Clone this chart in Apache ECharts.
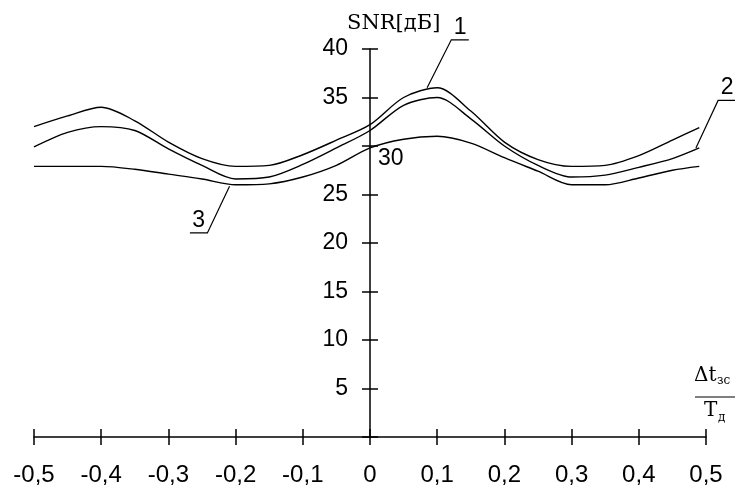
<!DOCTYPE html>
<html>
<head>
<meta charset="utf-8">
<script src="https://cdn.jsdelivr.net/npm/echarts@6/dist/echarts.min.js"></script>
<style>
html, body { margin: 0; padding: 0; background: #fff; }
#chart { width: 735px; height: 487px; }
</style>
</head>
<body>
<div id="chart"></div>
<script>
// отстройка по времени, доли периода
var xs = [-0.5, -0.45, -0.4, -0.35, -0.3, -0.25, -0.2, -0.15, -0.1, -0.05, 0, 0.05, 0.1, 0.15, 0.2, 0.25, 0.3, 0.35, 0.4, 0.45, 0.49];
// SNR, дБ, кривые 1..3
var snr1 = [32.0, 33.1, 34.0, 32.6, 30.4, 28.7, 27.9, 28.0, 29.1, 30.6, 32.2, 35.0, 36.0, 33.6, 30.4, 28.6, 27.9, 28.0, 29.0, 30.6, 31.9];
var snr2 = [29.9, 31.4, 32.0, 31.6, 29.7, 28.0, 26.6, 26.8, 28.1, 29.8, 31.6, 34.2, 35.0, 32.8, 30.0, 28.0, 26.8, 27.0, 27.8, 28.7, 29.8];
var snr3 = [27.9, 27.9, 27.9, 27.6, 27.1, 26.6, 26.0, 26.1, 26.8, 28.0, 29.8, 30.7, 31.0, 30.3, 28.8, 27.4, 26.0, 26.0, 26.7, 27.5, 27.9];
var yTickLabels = ['', '5', '10', '15', '20', '25', '', '35', '40'];
// выноски с номерами кривых (в координатах данных)
var callouts = [
    { text: '1', pts: [[0.085, 36.0], [0.121, 40.95], [0.147, 40.95]] },
    { text: '2', pts: [[0.485, 29.8], [0.518, 34.7], [0.545, 34.7]] },
    { text: '3', pts: [[-0.209, 25.85], [-0.242, 21.04], [-0.268, 21.04]] }
];

function zip(a, b) {
    var r = [];
    for (var i = 0; i < a.length; i++) r.push([a[i], b[i]]);
    return r;
}

var black = '#000';
var sansFont = 'Liberation Sans, Arial, sans-serif';
var serifFont = 'DejaVu Serif, Liberation Serif, serif';

var gridLeft = 34, gridRight = 29;
var gridW = 735 - gridLeft - gridRight;
// ось Y стоит на нуле оси X
var yOffset = -gridW / 2;

var myChart = echarts.init(document.getElementById('chart'));

var lineStyle = { color: black, width: 1.4 };

var option = {
    animation: false,
    backgroundColor: '#fff',
    grid: { left: gridLeft, right: gridRight, top: 49, bottom: 50, containLabel: false, outerBoundsMode: 'none' },
    xAxis: [
        {
            type: 'value', min: -0.5, max: 0.5, interval: 0.1, position: 'bottom',
            axisLine: { onZero: false, lineStyle: { color: black, width: 1.5 } },
            axisTick: { length: 8, lineStyle: { color: black, width: 1.5 } },
            axisLabel: {
                color: black, fontSize: 24, fontFamily: sansFont, margin: 26,
                formatter: function (v) { return String(+v.toFixed(1)).replace('.', ','); }
            },
            splitLine: { show: false }
        },
        {
            type: 'value', min: -0.5, max: 0.5, interval: 0.1, position: 'bottom',
            axisLine: { onZero: false, show: false },
            axisTick: { inside: true, length: 8, lineStyle: { color: black, width: 1.5 } },
            axisLabel: { show: false },
            splitLine: { show: false }
        }
    ],
    yAxis: [
        {
            type: 'value', min: 0, max: 40, interval: 5, position: 'left', offset: yOffset,
            axisLine: { show: true, onZero: false, lineStyle: { color: black, width: 1.5 } },
            axisTick: { length: 8, lineStyle: { color: black, width: 1.5 } },
            axisLabel: {
                color: black, fontSize: 23, fontFamily: sansFont, margin: 22,
                formatter: function (v) { return yTickLabels[Math.round(v / 5)]; }
            },
            splitLine: { show: false }
        },
        {
            type: 'value', min: 0, max: 40, interval: 5, position: 'left', offset: yOffset,
            axisLine: { show: false, onZero: false },
            axisTick: { inside: true, length: 8, lineStyle: { color: black, width: 1.5 } },
            axisLabel: {
                inside: true, color: black, fontSize: 23, fontFamily: sansFont, margin: 8,
                verticalAlign: 'top', padding: [1, 0, 0, 0],
                formatter: function (v) { return v === 30 ? '30' : ''; }
            },
            splitLine: { show: false }
        }
    ],
    series: [
        { name: '1', type: 'line', data: zip(xs, snr1), symbol: 'none', smooth: 0.3, lineStyle: lineStyle },
        { name: '2', type: 'line', data: zip(xs, snr2), symbol: 'none', smooth: 0.3, lineStyle: lineStyle },
        { name: '3', type: 'line', data: zip(xs, snr3), symbol: 'none', smooth: 0.3, lineStyle: lineStyle }
    ]
};

myChart.setOption(option);

// выноски и подписи осей
var g = [];
callouts.forEach(function (c) {
    var p = c.pts.map(function (d) { return myChart.convertToPixel({ xAxisIndex: 0, yAxisIndex: 0 }, d); });
    g.push({
        type: 'polyline', silent: true,
        shape: { points: p },
        style: { stroke: black, lineWidth: 1.2, fill: null }
    });
    g.push({
        type: 'text', silent: true,
        x: (p[1][0] + p[2][0]) / 2, y: p[2][1] - 1,
        style: { text: c.text, fill: black, font: '23px ' + sansFont, align: 'center', verticalAlign: 'bottom' }
    });
});

g.push({
    type: 'text', silent: true, x: 347, y: 13,
    style: { text: 'SNR[дБ]', fill: black, font: '21px ' + serifFont }
});
// дробь Δt_зс / T_д
g.push({ type: 'text', silent: true, x: 694, y: 366, style: { text: 'Δt', fill: black, font: '20px ' + serifFont } });
g.push({ type: 'text', silent: true, x: 717, y: 375, style: { text: 'зс', fill: black, font: '12px ' + serifFont } });
g.push({ type: 'line', silent: true, shape: { x1: 695, y1: 397, x2: 735, y2: 397 }, style: { stroke: black, lineWidth: 1.2 } });
g.push({ type: 'text', silent: true, x: 704, y: 401, style: { text: 'T', fill: black, font: '20px ' + serifFont } });
g.push({ type: 'text', silent: true, x: 718, y: 412, style: { text: 'д', fill: black, font: '12px ' + serifFont } });

myChart.setOption({ graphic: g });
</script>
</body>
</html>
